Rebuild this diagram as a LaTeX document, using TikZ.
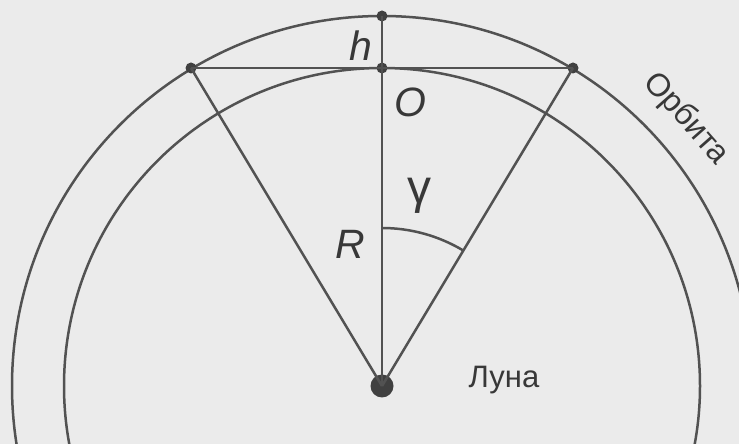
\documentclass[tikz,border=0pt]{standalone}
\usepackage{fontspec}
\setmainfont{Liberation Sans}
\begin{document}
\begin{tikzpicture}[x=1pt,y=1pt,
  ln/.style={draw=black!68,line width=2.5pt},
  dot/.style={circle,fill=black!75,inner sep=0pt,minimum size=11pt},
  bigdot/.style={circle,fill=black!75,inner sep=0pt,minimum size=23pt},
  lbl/.style={text=black!78,inner sep=0pt,font=\fontsize{41}{41}\selectfont\itshape},
  txt/.style={text=black!78,inner sep=0pt,font=\fontsize{31}{31}\selectfont}]
\fill[black!8] (0,0) rectangle (739,444);
\useasboundingbox (0,0) rectangle (739,444);
\begin{scope}
\clip (0,0) rectangle (739,444);
\coordinate (C) at (382,58);
\draw[ln] (C) circle[radius=370];
\draw[ln] (C) circle[radius=318];
\end{scope}
\node[bigdot] (moon) at (382,58) {};
\node[dot] (top) at (382,428) {};
\node[dot] (O) at (382,376) {};
\node[dot] (A) at (191,376) {};
\node[dot] (B) at (573,376) {};
\draw[ln] (A.center) -- (B.center);
\draw[ln] (moon.center) -- (top.center);
\draw[ln] (moon.center) -- (A.center);
\draw[ln] (moon.center) -- (B.center);
\draw[ln] ([shift={(90:158)}]moon.center) arc[start angle=90,end angle=59.2,radius=158];
\node[lbl] (hl) at (361,398) {h};
\node[lbl] (Ol) at (410,342) {O};
\node[lbl] (Rl) at (350,200) {R};
\node[txt,font=\fontsize{48}{48}\selectfont] (gl) at (419,248) {γ};
\node[txt] (luna) at (504,64) {Луна};
\node[txt,font=\fontsize{32}{32}\selectfont,rotate=-48.5] (orb) at (686,325) {Орбита};
\end{tikzpicture}
\end{document}
